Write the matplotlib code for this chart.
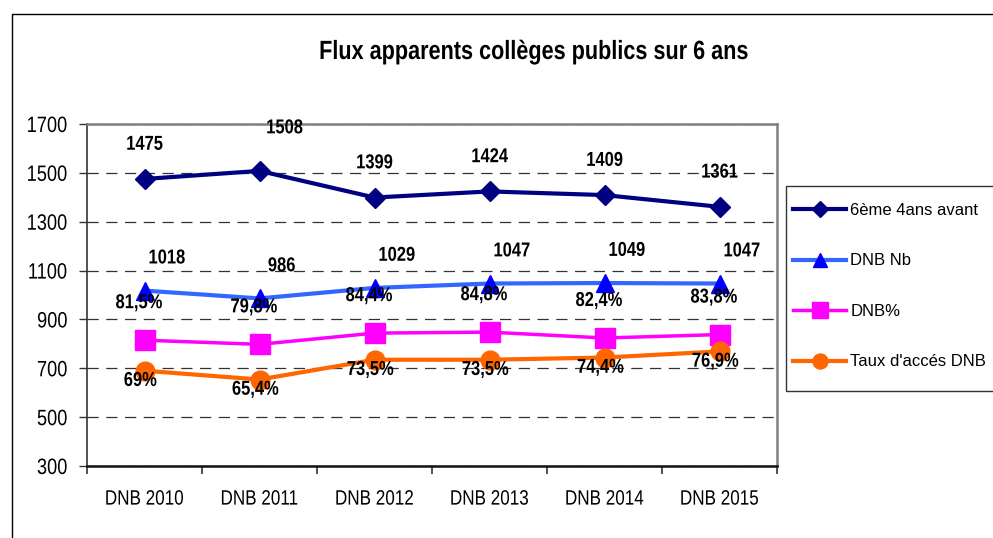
import matplotlib
matplotlib.use('Agg')
import matplotlib.pyplot as plt
from matplotlib.patches import Rectangle
from matplotlib.patheffects import AbstractPathEffect
from matplotlib.transforms import Affine2D

# donnees du graphique
annees = ['DNB 2010', 'DNB 2011', 'DNB 2012', 'DNB 2013', 'DNB 2014', 'DNB 2015']
sixieme = [1475, 1508, 1399, 1424, 1409, 1361]
dnb_nb = [1018, 986, 1029, 1047, 1049, 1047]
dnb_pct = [81.5, 79.8, 84.4, 84.8, 82.4, 83.8]
taux_acces = [69, 65.4, 73.5, 73.5, 74.4, 76.9]
etiq_pct = ['81,5%', '79,8%', '84,4%', '84,8%', '82,4%', '83,8%']
etiq_taux = ['69%', '65,4%', '73,5%', '73,5%', '74,4%', '76,9%']

police = ['Liberation Sans', 'DejaVu Sans']


# pas de police "narrow" installee : on comprime le texte en largeur
class Etroit(AbstractPathEffect):
    def __init__(self, pivot='center', sx=0.82):
        super().__init__()
        self.pivot = pivot
        self.sx = sx

    def draw_path(self, renderer, gc, tpath, affine, rgbFace=None):
        ext = tpath.get_extents()
        if self.pivot == 'right':
            cx = ext.x1
        elif self.pivot == 'left':
            cx = ext.x0
        else:
            cx = (ext.x0 + ext.x1) / 2
        t = Affine2D().translate(-cx, 0).scale(self.sx, 1).translate(cx, 0) + affine
        renderer.draw_path(gc, tpath, t, rgbFace)


fig = plt.figure(figsize=(9.93, 5.38), dpi=100)
ax = fig.add_axes([87/993, 1-466/538, 690/993, 342/538])

x = range(len(annees))
# les pourcentages sont traces a l'echelle x10 comme dans l'original
pct_plot = [v*10 for v in dnb_pct]
taux_plot = [v*10 for v in taux_acces]

ax.plot(x, sixieme, color='#000080', lw=3, marker='D', ms=10, mfc='#000080', mec='#000080', label='6ème 4ans avant', zorder=5)
ax.plot(x, dnb_nb, color='#3366FF', lw=3, marker='^', ms=13, mfc='#0000FF', mec='#0000FF', label='DNB Nb', zorder=5)
ax.plot(x, pct_plot, color='#FF00FF', lw=2.5, marker='s', ms=14, mfc='#FF00FF', mec='#FF00FF', label='DNB%', zorder=5)
ax.plot(x, taux_plot, color='#FF6600', lw=3, marker='o', ms=13.5, mfc='#FF6600', mec='#FF6600', label="Taux d'accés DNB", zorder=5)

lab = dict(fontsize=14.5, fontweight='bold', family=police, ha='center', va='center',
           textcoords='offset points', zorder=6, path_effects=[Etroit()])
for i in x:
    # l'etiquette 1508 est decalee a droite dans l'original
    dx, dy = (18, 31) if i == 1 else (0, 25)
    ax.annotate(str(sixieme[i]), (i, sixieme[i]), xytext=(dx, dy), **lab)
    ax.annotate(str(dnb_nb[i]), (i, dnb_nb[i]), xytext=(16, 23.5), **lab)
    ax.annotate(etiq_pct[i], (i, pct_plot[i]), xytext=(-4, 27), **lab)
    ax.annotate(etiq_taux[i], (i, taux_plot[i]), xytext=(-3, -7), **lab)

ax.set_xlim(-0.5, 5.5)
ax.set_ylim(300, 1700)
ax.set_yticks(range(300, 1701, 200))
ax.yaxis.grid(True, color='#333333', lw=0.9, dashes=(9, 6))
ax.set_axisbelow(True)

ax.set_xticks(list(x))
ax.set_xticklabels(annees, family=police, fontsize=15)
ax.set_xticks([i - 0.5 for i in range(len(annees) + 1)], minor=True)
ax.tick_params(axis='x', which='major', length=0, pad=17)
ax.tick_params(axis='x', which='minor', direction='out', length=6, width=1.2, color='#333333')
ax.tick_params(axis='y', direction='out', length=6, width=1, color='#333333', pad=8)
for t in ax.get_xticklabels():
    t.set_path_effects([Etroit()])
for t in ax.get_yticklabels():
    t.set_family(police)
    t.set_fontsize(16)
    t.set_path_effects([Etroit('right')])

for s in ['top', 'right']:
    ax.spines[s].set_color('#808080')
    ax.spines[s].set_linewidth(1.8)
ax.spines['left'].set_color('#333333')
ax.spines['left'].set_linewidth(1.2)
ax.spines['bottom'].set_color('#111111')
ax.spines['bottom'].set_linewidth(1.8)

fig.text(534/993, 1-52/538, 'Flux apparents collèges publics sur 6 ans', ha='center', va='center',
         fontsize=19, fontweight='bold', family=police, path_effects=[Etroit()])

# cadre du graphique
fig.patches.append(Rectangle((12/993, -0.1), 1.1, 1.1 - 14/538, transform=fig.transFigure,
                             fill=False, ec='black', lw=1))
# cadre de la legende
fig.patches.append(Rectangle((786/993, 1-391/538), 0.3, 205/538, transform=fig.transFigure,
                             fill=True, fc='white', ec='#333333', lw=1, zorder=1))

leg = fig.legend(loc='upper left', bbox_to_anchor=(793/993, 1-203/538), borderaxespad=0,
                 prop={'family': police, 'size': 12}, handlelength=3.2, handletextpad=0.25,
                 labelspacing=2.13, borderpad=0, markerscale=0.8, frameon=False)
leg.set_zorder(3)

plt.savefig('out.png')
